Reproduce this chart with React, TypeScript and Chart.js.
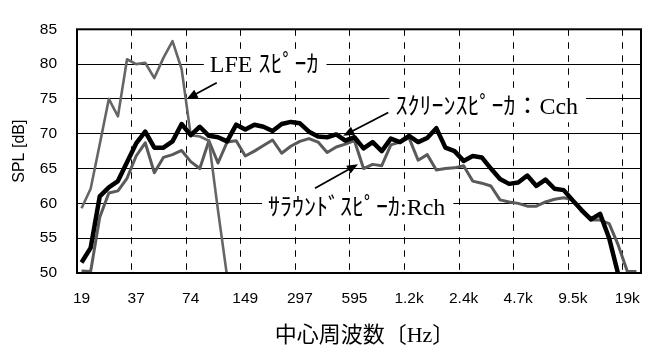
import React, { useEffect, useRef } from 'react';
import { Chart, registerables } from 'chart.js';

Chart.register(...registerables);

// 1/6-octave centre frequencies (category axis)
const freqLabels = ['19','21','23','26','29','33','37','42','47','53','59','66','74','83','94','105','118','132','149','167','187','210','236','265','297','334','375','420','472','530','595','667','749','841','944','1.1k','1.2k','1.3k','1.5k','1.7k','1.9k','2.1k','2.4k','2.7k','3.0k','3.4k','3.8k','4.2k','4.7k','5.3k','6.0k','6.7k','7.6k','8.5k','9.5k','11k','12k','13k','15k','17k','19k','21k'];

// Screen speaker : Cch
const cchValues = [51.5, 53.6, 61.0, 62.3, 63.2, 65.9, 68.6, 70.3, 68.0, 68.0,
  68.9, 71.4, 69.8, 71.0, 69.7, 69.5, 68.9, 71.3, 70.6, 71.3,
  71.0, 70.4, 71.4, 71.7, 71.5, 70.3, 69.6, 69.5, 69.9, 69.0,
  69.5, 67.9, 68.8, 67.5, 69.3, 68.8, 69.7, 68.8, 69.4, 70.8,
  68.0, 67.5, 66.1, 66.8, 66.6, 65.0, 63.5, 62.8, 63.0, 64.0,
  62.5, 63.4, 62.1, 61.9, 60.4, 59.0, 57.7, 58.5, 55.0, 49.8,
  null, null];

// LFE speaker
const lfeValues = [59.3, 62.1, 68.5, 75.0, 72.5, 80.7, 80.0, 80.2, 78.0, 80.9,
  83.3, 79.3, 69.8, 69.6, 69.0, 59.0, 49.5, null, null, null,
  null, null, null, null, null, null, null, null, null, null,
  null, null, null, null, null, null, null, null, null, null,
  null, null, null, null, null, null, null, null, null, null,
  null, null, null, null, null, null, null, null, null, null,
  null, null];

// Surround speaker : Rch
const rchValues = [50.3, 50.2, 58.0, 61.5, 61.8, 63.6, 66.8, 68.7, 64.4, 66.6,
  67.0, 67.6, 66.0, 65.0, 69.0, 65.8, 68.8, 69.0, 66.8, 67.5,
  68.3, 69.1, 67.2, 68.2, 68.9, 69.3, 68.8, 67.3, 68.1, 68.5,
  69.0, 65.0, 65.6, 65.4, 68.4, 68.8, 69.4, 66.2, 67.0, 64.8,
  65.0, 65.1, 65.4, 63.2, 62.9, 62.5, 60.5, 60.2, 60.0, 59.6,
  59.6, 60.2, 60.6, 60.8, 60.5, 58.8, 57.6, 57.6, 57.1, 54.0,
  50.2, 50.2];

const yTickMin = 50;
const yTickMax = 85;
const yTickStep = 5;

// Callout labels (text left edge in category index, text centre in dB)
const annotTexts = ['LFE ｽﾋﾟｰｶ', 'ｽｸﾘｰﾝｽﾋﾟｰｶ：Cch', 'ｻﾗｳﾝﾄﾞｽﾋﾟｰｶ:Rch'];
const annotX = [14.1, 34.5, 20.5];
const annotY = [79.8, 73.8, 59.3];
const arrowFromX = [14.86, 33.72, 25.66];
const arrowFromY = [77.33, 73.06, 62.16];
const arrowToX = [11.56, 28.77, 30.39];
const arrowToY = [75.0, 69.7, 65.62];

const ANNOT_FONT = '24px "Liberation Serif", "Noto Sans CJK JP"';

function drawArrow(ctx: CanvasRenderingContext2D, x1: number, y1: number, x2: number, y2: number) {
  const ang = Math.atan2(y2 - y1, x2 - x1);
  const len = 11;
  const hw = 4.5;
  const c = Math.cos(ang);
  const s = Math.sin(ang);
  ctx.save();
  ctx.strokeStyle = '#000';
  ctx.fillStyle = '#000';
  ctx.lineWidth = 1.8;
  ctx.beginPath();
  ctx.moveTo(x1, y1);
  ctx.lineTo(x2 - c * len * 0.8, y2 - s * len * 0.8);
  ctx.stroke();
  ctx.beginPath();
  ctx.moveTo(x2, y2);
  ctx.lineTo(x2 - len * c + hw * s, y2 - len * s - hw * c);
  ctx.lineTo(x2 - len * c - hw * s, y2 - len * s + hw * c);
  ctx.closePath();
  ctx.fill();
  ctx.restore();
}

const annotPlugin = {
  id: 'callouts',
  beforeDatasetsDraw(chart: any) {
    const { ctx, scales } = chart;
    const xs = scales.x;
    const ys = scales.y;
    ctx.save();
    ctx.font = ANNOT_FONT;
    ctx.fillStyle = '#fff';
    annotTexts.forEach((t, i) => {
      const x = xs.getPixelForValue(annotX[i]);
      const y = ys.getPixelForValue(annotY[i]);
      const w = ctx.measureText(t).width;
      ctx.fillRect(x - 6, y - 15, w + 14, 30);
    });
    ctx.restore();
  },
  afterDatasetsDraw(chart: any) {
    const { ctx, scales, chartArea } = chart;
    const xs = scales.x;
    const ys = scales.y;
    ctx.save();
    ctx.font = ANNOT_FONT;
    ctx.fillStyle = '#000';
    ctx.textBaseline = 'middle';
    ctx.textAlign = 'left';
    annotTexts.forEach((t, i) => {
      ctx.fillText(t, xs.getPixelForValue(annotX[i]), ys.getPixelForValue(annotY[i]));
    });
    for (let i = 0; i < arrowFromX.length; i++) {
      drawArrow(ctx,
        xs.getPixelForValue(arrowFromX[i]), ys.getPixelForValue(arrowFromY[i]),
        xs.getPixelForValue(arrowToX[i]), ys.getPixelForValue(arrowToY[i]));
    }
    ctx.strokeStyle = '#000';
    ctx.lineWidth = 2;
    ctx.strokeRect(chartArea.left, chartArea.top, chartArea.right - chartArea.left, chartArea.bottom - chartArea.top);
    ctx.restore();
  },
};

export default function App() {
  const ref = useRef<HTMLCanvasElement | null>(null);
  useEffect(() => {
    document.body.style.margin = '0';
    const canvas = ref.current;
    if (!canvas) return;
    const chart = new Chart(canvas, {
      type: 'line',
      data: {
        labels: freqLabels,
        datasets: [
          { label: 'Cch', data: cchValues, borderColor: '#000', borderWidth: 4.5, pointRadius: 0, tension: 0, borderJoinStyle: 'round', spanGaps: false },
          { label: 'LFE', data: lfeValues, borderColor: '#666', borderWidth: 2.6, pointRadius: 0, tension: 0, borderJoinStyle: 'round', spanGaps: false },
          { label: 'Rch', data: rchValues, borderColor: '#5a5a5a', borderWidth: 3, pointRadius: 0, tension: 0, borderJoinStyle: 'round', spanGaps: false },
        ],
      },
      options: {
        responsive: false,
        maintainAspectRatio: false,
        devicePixelRatio: 1,
        animation: false,
        events: [],
        layout: { padding: { top: 13, right: 14, left: 0, bottom: 0 } },
        plugins: { legend: { display: false }, tooltip: { enabled: false } },
        scales: {
          x: {
            type: 'category',
            offset: true,
            grid: {
              offset: true,
              drawTicks: false,
              lineWidth: 1,
              color: (c: any) => (c.index % 6 === 0 ? '#000' : 'rgba(0,0,0,0)'),
            },
            border: { display: false, dash: [6.5, 6.5] },
            ticks: {
              autoSkip: false,
              maxRotation: 0,
              minRotation: 0,
              padding: 16,
              color: '#000',
              font: { family: '"Liberation Sans", Arial, sans-serif', size: 15.5 },
              callback: (_v: any, i: number) => (i % 6 === 0 ? freqLabels[i] : ''),
            },
            title: {
              display: true,
              text: '\u2002中心周波数〔Hz〕',
              color: '#000',
              font: { family: '"Liberation Serif", "Noto Sans CJK JP"', size: 22, lineHeight: 1 },
              padding: { top: 0, bottom: 0 },
            },
            afterFit: (s: any) => { s.height = 74; },
          },
          y: {
            min: yTickMin,
            max: yTickMax,
            grid: { drawTicks: false, color: '#000', lineWidth: 1 },
            border: { display: false },
            ticks: {
              stepSize: yTickStep,
              padding: 20,
              color: '#000',
              font: { family: '"Liberation Sans", Arial, sans-serif', size: 15.5 },
            },
            title: {
              display: true,
              text: 'SPL [dB]',
              color: '#000',
              font: { family: '"Liberation Sans", Arial, sans-serif', size: 16 },
              padding: { top: 10.4, bottom: 0 },
            },
            afterFit: (s: any) => { s.width = 77; },
          },
        },
      },
      plugins: [annotPlugin],
    } as any);
    return () => chart.destroy();
  }, []);
  return <canvas ref={ref} width={655} height={347} style={{ display: 'block' }} />;
}
